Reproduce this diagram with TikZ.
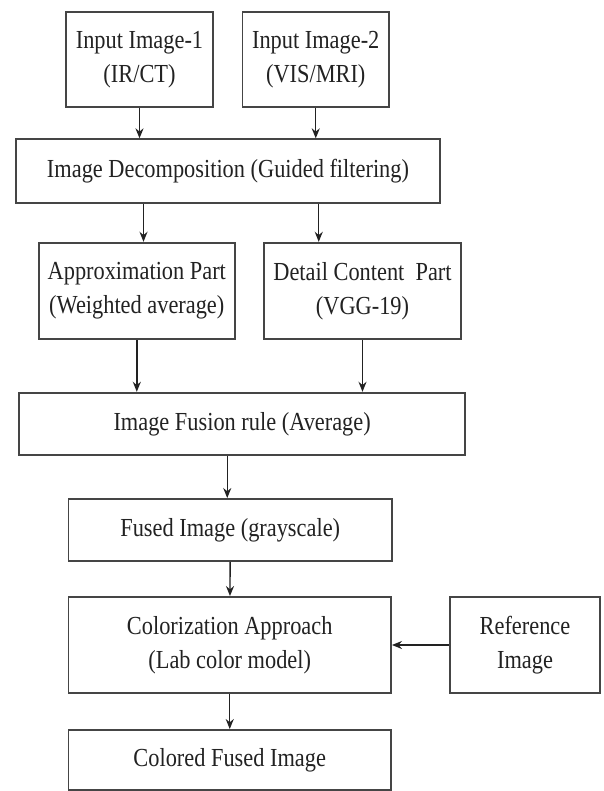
\documentclass[tikz,border=0pt]{standalone}
\usepackage{fontspec}
\setmainfont{Liberation Serif}[FakeStretch=0.86]
\usetikzlibrary{arrows.meta}
\definecolor{edge}{HTML}{454545}
\definecolor{ink}{HTML}{222222}
\begin{document}
\begin{tikzpicture}[x=1pt,y=-1pt,
  blk/.style={draw=edge,line width=1.9pt,inner sep=0pt,align=center,text=ink,
    font=\fontsize{26}{34}\selectfont},
  arr/.style={draw=ink,line width=1.4pt,-{Stealth[length=10pt,width=8pt]}}]
\useasboundingbox[fill=white] (0,0) rectangle (603,791);
\clip (0,0) rectangle (603,791);
\node[blk,minimum width=147pt,minimum height=95pt] (in1) at (139.5,59.2) {Input Image-1\\(IR/CT)};
\node[blk,minimum width=146.5pt,minimum height=95pt] (in2) at (315.75,59.2) {Input Image-2\\(VIS/MRI)};
\node[blk,minimum width=424pt,minimum height=64pt] (dec) at (228,171.3) {Image Decomposition (Guided filtering)};
\node[blk,minimum width=196.4pt,minimum height=96.5pt] (app) at (136.8,291) {Approximation Part\\(Weighted average)};
\node[blk,minimum width=196.5pt,minimum height=96.5pt] (det) at (362.5,291) {Detail Content\ \ Part\\(VGG-19)};
\node[blk,minimum width=445.7pt,minimum height=62.3pt] (fus) at (242.15,423.9) {Image Fusion rule (Average)};
\node[blk,minimum width=323.5pt,minimum height=62pt] (fgs) at (230.25,530) {Fused Image (grayscale)};
\node[blk,minimum width=322.5pt,minimum height=96pt] (col) at (229.75,645) {Colorization Approach\\(Lab color model)};
\node[blk,minimum width=150pt,minimum height=96pt] (ref) at (525,645) {Reference\\Image};
\node[blk,minimum width=322.5pt,minimum height=60pt] (cfi) at (229.75,760) {Colored Fused Image};
\draw[arr] (in1) -- (in1 |- dec.north);
\draw[arr] (in2) -- (in2 |- dec.north);
\draw[arr] ([xshift=4pt]dec.south -| in1) -- ([xshift=4pt]app.north -| in1);
\draw[arr] ([xshift=3pt]dec.south -| in2) -- ([xshift=3pt]det.north -| in2);
\draw[arr] (app) -- (app |- fus.north);
\draw[arr] (det) -- (det |- fus.north);
\draw[arr] ([xshift=-3pt]fus.south -| fgs) -- ([xshift=-3pt]fgs.north);
\draw[arr] (fgs) -- (col);
\draw[arr] (col) -- (cfi);
\draw[arr] (ref) -- (col);
\end{tikzpicture}
\end{document}
